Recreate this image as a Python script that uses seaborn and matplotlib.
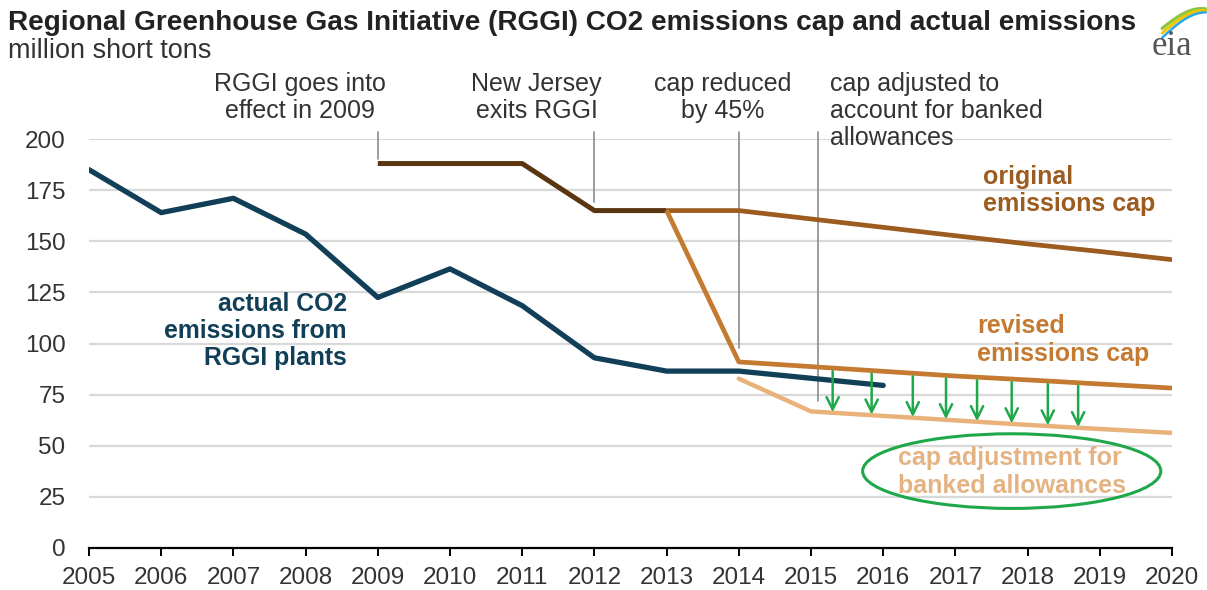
import numpy as np
import pandas as pd
import seaborn as sns
import matplotlib.pyplot as plt
from matplotlib.patches import Ellipse

# data (million short tons)
actual_years = [2005, 2006, 2007, 2008, 2009, 2010, 2011, 2012, 2013, 2014, 2015, 2016]
actual_vals = [185, 164, 171, 153.5, 122.5, 136.5, 118.5, 93, 86.5, 86.5, 83, 79.5]

early_cap_years = [2009, 2010, 2011, 2012, 2013]
early_cap_vals = [188, 188, 188, 165, 165]

orig_cap_years = [2013, 2014, 2015, 2016, 2017, 2018, 2019, 2020]
orig_cap_vals = [165, 165, 160.9, 156.8, 152.7, 148.7, 145, 141]

rev_cap_years = [2013, 2014, 2015, 2016, 2017, 2018, 2019, 2020]
rev_cap_vals = [165, 91, 88.7, 86.4, 84.1, 82.2, 80.2, 78.2]

adj_cap_years = [2014, 2015, 2016, 2017, 2018, 2019, 2020]
adj_cap_vals = [82.8, 66.8, 64.6, 62.4, 60.2, 58.2, 56.3]

# green arrows showing the banked-allowance adjustment
arrow_years = [2015.3, 2015.84, 2016.41, 2016.87, 2017.3, 2017.78, 2018.28, 2018.7]

# call-out leader lines: year, lower end
callout_years = [2009, 2012, 2014, 2015.1]
callout_bottoms = [190, 169, 98, 72]
callout_texts = ['RGGI goes into\neffect in 2009', 'New Jersey\nexits RGGI',
                 'cap reduced\nby 45%', 'cap adjusted to\naccount for banked\nallowances']

x_ticks = list(range(2005, 2021))
y_ticks = [0, 25, 50, 75, 100, 125, 150, 175, 200]

navy = '#123f58'
dark_brown = '#5a3510'
brown = '#9c5b1f'
orange = '#c47a30'
tan = '#e9b27a'
green = '#1fa84a'
text_gray = '#333333'

sns.set_style('white')
plt.rcParams['font.family'] = ['Liberation Sans', 'DejaVu Sans']

W, H = 1207, 590
fig = plt.figure(figsize=(W / 100, H / 100), dpi=100)
ax = fig.add_axes([89 / W, 1 - 548 / H, (1172 - 89) / W, (548 - 139) / H])

# gridlines
for yv in y_ticks[1:]:
    ax.axhline(yv, color='#d9d9d9', lw=1.6, zorder=0)

# series
sns.lineplot(x=early_cap_years, y=early_cap_vals, color=dark_brown, lw=3.6, ax=ax,
             solid_capstyle='butt', zorder=3)
sns.lineplot(x=orig_cap_years, y=orig_cap_vals, color=brown, lw=3.4, ax=ax,
             solid_capstyle='butt', zorder=3)
sns.lineplot(x=rev_cap_years, y=rev_cap_vals, color=orange, lw=3.4, ax=ax,
             solid_capstyle='butt', zorder=3)
sns.lineplot(x=adj_cap_years, y=adj_cap_vals, color=tan, lw=3.2, ax=ax,
             solid_capstyle='round', zorder=3)
sns.lineplot(x=actual_years, y=actual_vals, color=navy, lw=3.8, ax=ax,
             solid_capstyle='round', zorder=4)

# call-outs with leader lines
text_x = [2007.92, 2011.2, 2013.78, 2015.26]
text_ha = ['center', 'center', 'center', 'left']
for yr, bot, txt, tx, ha in zip(callout_years, callout_bottoms, callout_texts, text_x, text_ha):
    ax.plot([yr, yr], [203.5, bot], color='#8c8c8c', lw=1.2, clip_on=False, zorder=2)
    ax.text(tx, 233, txt, ha=ha, va='top', fontsize=18, color=text_gray,
            linespacing=1.17, clip_on=False)

# arrows from revised cap down to adjusted cap
for yr in arrow_years:
    top = np.interp(yr, rev_cap_years, rev_cap_vals) - 1.5
    bot = np.interp(yr, adj_cap_years, adj_cap_vals) + 0.3
    ax.annotate('', xy=(yr, bot), xytext=(yr, top),
                arrowprops=dict(arrowstyle='->', color=green, lw=1.8,
                                mutation_scale=22, shrinkA=0, shrinkB=0), zorder=5)

# series labels
ax.text(2008.57, 106, 'actual CO2\nemissions from\nRGGI plants', ha='right', va='center',
        fontsize=17.8, fontweight='bold', color=navy, linespacing=1.15)
ax.text(2017.38, 175, 'original\nemissions cap', ha='left', va='center',
        fontsize=18, fontweight='bold', color=brown, linespacing=1.17)
ax.text(2017.3, 101.7, 'revised\nemissions cap', ha='left', va='center',
        fontsize=18, fontweight='bold', color=orange, linespacing=1.17)
ax.text(2016.2, 37.2, 'cap adjustment for\nbanked allowances', ha='left', va='center',
        fontsize=18, fontweight='bold', color='#e5b382', linespacing=1.17)
ax.add_patch(Ellipse((2017.78, 37.6), 4.13, 36.5, fill=False, edgecolor=green, lw=2.2,
                     clip_on=False, zorder=5))

# axes styling
ax.set_xlim(2005, 2020)
ax.set_ylim(0, 200)
ax.set_xticks(x_ticks)
ax.set_xticklabels([str(v) for v in x_ticks])
ax.set_yticks(y_ticks)
ax.set_yticklabels([str(v) for v in y_ticks])
ax.tick_params(axis='x', length=6, width=1.4, color='black', labelsize=17.5,
               labelcolor=text_gray, pad=8, direction='out', bottom=True)
ax.tick_params(axis='y', length=0, labelsize=17.5, labelcolor=text_gray, pad=17)
for side in ['top', 'right', 'left']:
    ax.spines[side].set_visible(False)
ax.spines['bottom'].set_color('black')
ax.spines['bottom'].set_linewidth(1.6)
ax.set_xlabel('')
ax.set_ylabel('')

# title and units
fig.text(8 / W, 1 - 23 / H, 'Regional Greenhouse Gas Initiative (RGGI) CO2 emissions cap and actual emissions',
         ha='left', va='center', fontsize=20.2, fontweight='bold', color='#222222')
fig.text(8 / W, 1 - 51 / H, 'million short tons', ha='left', va='center', fontsize=19.5,
         color=text_gray)

# eia logo
lax = fig.add_axes([1143 / W, 1 - 62 / H, 64 / W, 58 / H])
lax.set_xlim(0, 1)
lax.set_ylim(0, 1)
lax.axis('off')
t = np.linspace(0, 1, 50)
for k, col in enumerate(['#8dc63f', '#f2c500', '#29a9e0']):
    xs = 0.3 + 0.68 * t
    ys = 0.58 + 0.34 * np.sin(np.pi * t * 0.55) - 0.08 * k + 0.05 * t * k
    lax.plot(xs, ys, color=col, lw=2.4 - 0.3 * k)
lax.text(0.45, -0.02, 'eia', ha='center', va='bottom', fontsize=25, color='#555555',
         family=['Liberation Serif', 'DejaVu Serif'])

fig.savefig('out.png', dpi=100)
